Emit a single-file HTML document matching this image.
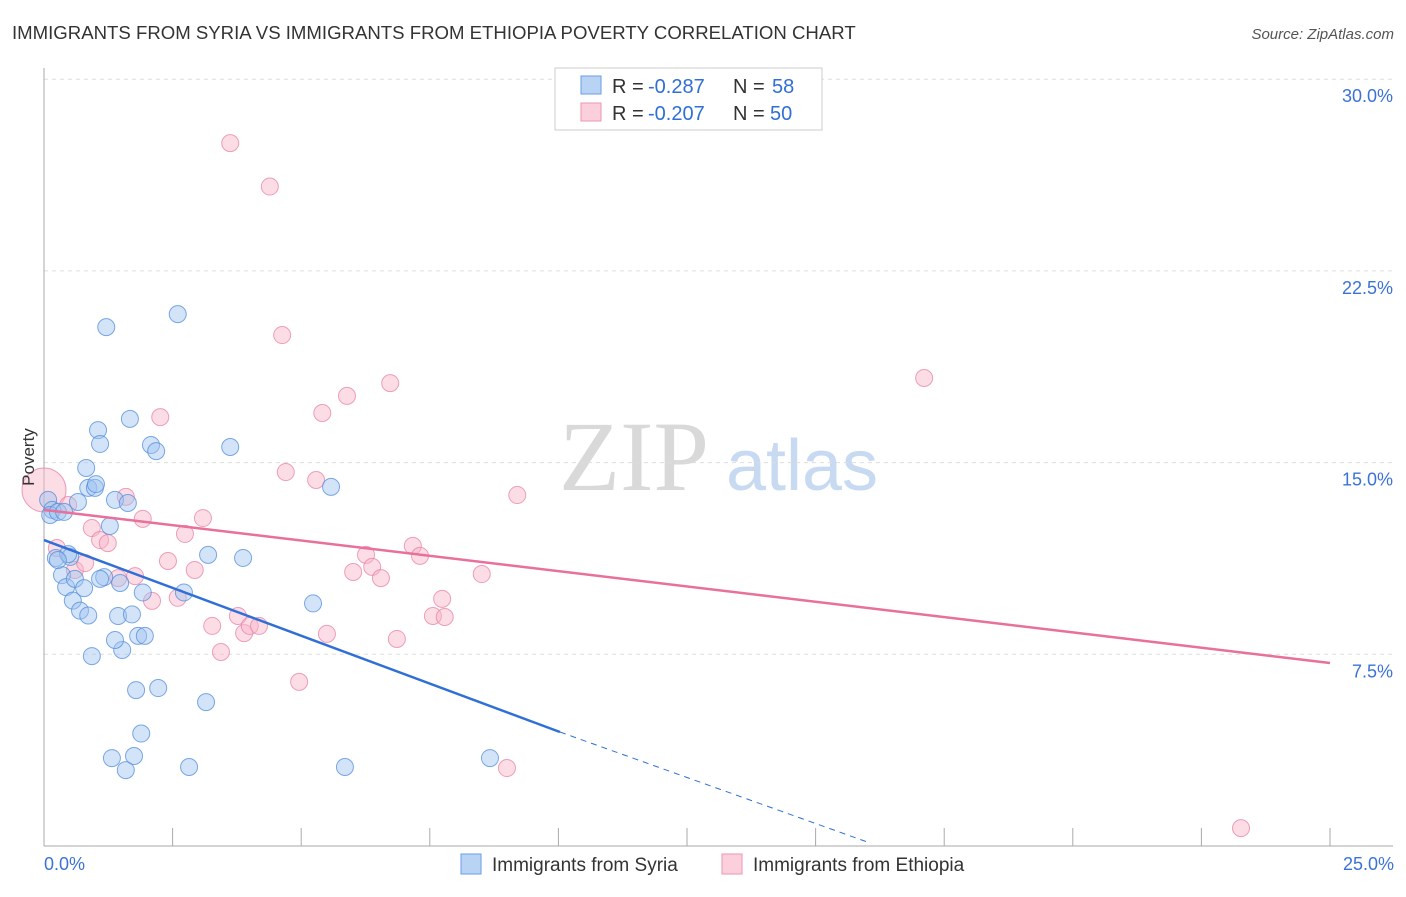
<!DOCTYPE html>
<html><head><meta charset="utf-8"><style>
body{margin:0;background:#fff;font-family:"Liberation Sans",sans-serif}
svg text{font-family:"Liberation Sans",sans-serif}
</style></head><body>
<svg width="1406" height="892" xmlns="http://www.w3.org/2000/svg">
<text x="12" y="39" font-size="18.6" fill="#333">IMMIGRANTS FROM SYRIA VS IMMIGRANTS FROM ETHIOPIA POVERTY CORRELATION CHART</text>
<text x="1394" y="39" font-size="15" fill="#555" font-style="italic" text-anchor="end">Source: ZipAtlas.com</text>
<g>
<text x="634" y="490" font-size="100" style="font-family:'Liberation Serif',serif" fill="#d9d9d9" text-anchor="middle">ZIP</text>
<text x="802" y="490" font-size="72" fill="#c8daf2" text-anchor="middle">atlas</text>
</g>
<g id="grid"></g>
<g id="axes"></g>
<g id="pts"></g>
<g id="lines"></g>
<text x="34" y="457" font-size="17" fill="#333" text-anchor="middle" transform="rotate(-90 34 457)">Poverty</text>
<g>
<rect x="555" y="68" width="267" height="62" fill="#fff" stroke="#ccc"/>
<rect x="581" y="76" width="20" height="18" fill="#b9d3f5" stroke="#6a9ee6"/>
<rect x="581" y="103" width="20" height="18" fill="#fbcfdc" stroke="#ee96b2"/>
<text x="612" y="93" font-size="20" fill="#333">R =</text>
<text x="648" y="93" font-size="20" fill="#2f6fd6">-0.287</text>
<text x="733" y="93" font-size="20" fill="#333">N =</text>
<text x="772" y="93" font-size="20" fill="#2f6fd6">58</text>
<text x="612" y="120" font-size="20" fill="#333">R =</text>
<text x="648" y="120" font-size="20" fill="#2f6fd6">-0.207</text>
<text x="733" y="120" font-size="20" fill="#333">N =</text>
<text x="770" y="120" font-size="20" fill="#2f6fd6">50</text>
</g>
<g>
<rect x="461" y="854" width="20" height="20" fill="#b9d3f5" stroke="#6a9ee6"/>
<text x="492" y="871" font-size="19" fill="#333">Immigrants from Syria</text>
<rect x="722" y="854" width="20" height="20" fill="#fbcfdc" stroke="#ee96b2"/>
<text x="753" y="871" font-size="19" fill="#333">Immigrants from Ethiopia</text>
</g>
</svg>
<script>
const xTicks=[0,2.5,5,7.5,10,12.5,15,17.5,20,22.5,25];
const yTicks=[7.5,15,22.5,30];
const yTickLabels=["7.5%","15.0%","22.5%","30.0%"];
const syriaX=[0.08,0.16,0.12,0.27,0.23,0.35,0.43,0.51,0.47,0.56,0.6,0.66,0.7,0.78,0.86,0.93,0.82,0.86,0.99,1.01,1.05,1.09,1.17,1.21,1.28,1.38,1.44,1.48,1.52,1.38,1.59,1.63,1.67,1.71,1.75,1.79,1.83,1.89,1.92,1.96,2.08,2.18,2.22,2.6,2.72,2.82,3.15,3.19,3.62,3.87,5.23,5.58,5.85,8.67,1.32,1.09,0.27,0.39];
const syriaY=[13.54,13.15,12.95,13.07,11.27,10.6,10.13,11.31,11.42,9.6,10.45,13.46,9.21,10.09,9.02,7.43,14.79,14.01,14.01,14.16,16.27,15.73,10.52,20.3,12.52,13.54,9.0,10.29,7.67,8.06,2.97,13.42,16.71,9.06,3.52,6.1,8.22,4.4,9.92,8.22,15.69,15.45,6.18,20.81,9.92,3.09,5.63,11.39,15.61,11.27,9.49,14.05,3.09,3.44,3.44,10.45,11.19,13.07];
const ethX=[0,0.25,0.47,0.6,0.8,0.93,1.09,1.24,1.44,1.59,1.77,1.92,2.1,2.26,2.41,2.6,2.74,2.93,3.09,3.27,3.44,3.62,3.77,3.89,4.0,4.18,4.39,4.63,4.7,4.96,5.29,5.41,5.5,5.89,6.01,6.26,6.38,6.55,6.73,6.86,7.17,7.31,7.56,7.74,7.79,8.51,9.0,9.2,17.11,23.27];
const ethY=[13.93,11.66,13.34,10.8,11.07,12.44,11.97,11.85,10.48,13.66,10.56,12.8,9.59,16.78,11.15,9.71,12.21,10.8,12.83,8.61,7.59,27.5,9.0,8.33,8.61,8.61,25.8,19.99,14.63,6.42,14.32,16.94,8.3,17.61,10.72,11.39,10.92,10.48,18.11,8.1,11.74,11.35,9.0,9.67,8.96,10.64,3.05,13.73,18.31,0.7];
const syriaLine={x0:0,y0:11.97,x1:10.03,y1:4.46,xDash:16,yDash:0.16};
const ethLine={x0:0,y0:13.15,x1:25,y1:7.16};
const sx=v=>44+v*51.44, sy=v=>846-v*25.56;
const NS="http://www.w3.org/2000/svg";
function mk(t,a,p){const e=document.createElementNS(NS,t);for(const k in a)e.setAttribute(k,a[k]);p.appendChild(e);return e;}
const grid=document.getElementById('grid'),axes=document.getElementById('axes'),pts=document.getElementById('pts'),lines=document.getElementById('lines');
yTicks.forEach((v,i)=>{const l=mk('line',{x1:44,x2:1393,y1:sy(v),y2:sy(v),stroke:'#ddd','stroke-dasharray':'4,4'},grid);


const t=mk('text',{x:1393,y:sy(v)+23,'font-size':18,fill:'#3a73d4','text-anchor':'end'},axes);t.textContent=yTickLabels[i];

});
const ya=mk('line',{x1:44,x2:44,y1:68,y2:846,stroke:'#aaa'},axes);


const xa=mk('line',{x1:44,x2:1393,y1:846,y2:846,stroke:'#aaa'},axes);


xTicks.forEach(v=>{const l=mk('line',{x1:sx(v),x2:sx(v),y1:828,y2:846,stroke:'#aaa'},axes);

});
[[0,"0.0%","start",44],[25,"25.0%","end",1394]].forEach(d=>{const t=mk('text',{x:d[3],y:870,'font-size':18,fill:'#3a73d4','text-anchor':d[2]},axes);t.textContent=d[1];

});
ethX.forEach((v,i)=>{const c=mk('circle',{cx:sx(v),cy:sy(ethY[i]),r:i==0?22:8.5,fill:'rgba(248,180,200,0.45)',stroke:'rgba(232,130,165,0.75)','stroke-width':1},pts);

});
syriaX.forEach((v,i)=>{const c=mk('circle',{cx:sx(v),cy:sy(syriaY[i]),r:8.5,fill:'rgba(160,195,240,0.45)',stroke:'rgba(80,140,220,0.75)','stroke-width':1},pts);

});
let l1=mk('line',{x1:sx(ethLine.x0),y1:sy(ethLine.y0),x2:sx(ethLine.x1),y2:sy(ethLine.y1),stroke:'#e8709a','stroke-width':2.5},lines);


let l2=mk('line',{x1:sx(syriaLine.x0),y1:sy(syriaLine.y0),x2:sx(syriaLine.x1),y2:sy(syriaLine.y1),stroke:'#2f6fd6','stroke-width':2.5},lines);


let l3=mk('line',{x1:sx(syriaLine.x1),y1:sy(syriaLine.y1),x2:sx(syriaLine.xDash),y2:sy(syriaLine.yDash),stroke:'#2f6fd6','stroke-width':1,'stroke-dasharray':'6,5'},lines);


</script>
</body></html>
